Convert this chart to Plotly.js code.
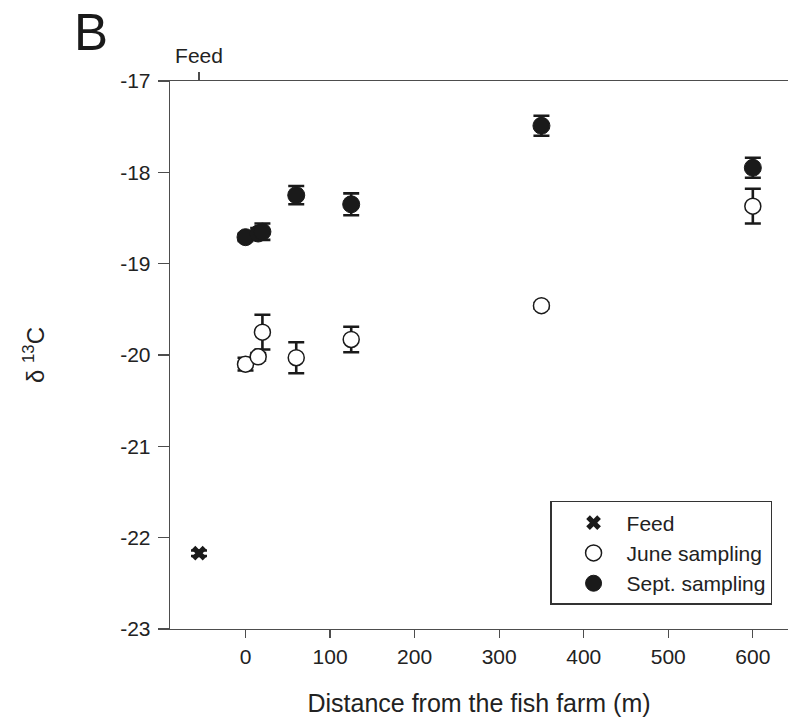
<!DOCTYPE html>
<html>
<head>
<meta charset="utf-8">
<script src="https://cdn.plot.ly/plotly-3.0.1.min.js"></script>
<style>html,body{margin:0;padding:0;background:#fff}#chart{width:788px;height:725px}</style>
</head>
<body>
<div id="chart"></div>
<script>
// Feed (reference point)
const feedX = [-55];
const feedY = [-22.17];
const feedErr = [0.03];
// June sampling
const juneX = [0, 15, 20, 60, 125, 350, 600];
const juneY = [-20.10, -20.02, -19.75, -20.03, -19.83, -19.46, -18.37];
const juneErr = [0.07, 0.04, 0.19, 0.17, 0.14, 0.03, 0.19];
// Sept. sampling
const septX = [0, 15, 20, 60, 125, 350, 600];
const septY = [-18.71, -18.67, -18.65, -18.25, -18.35, -17.49, -17.95];
const septErr = [0.04, 0.06, 0.09, 0.10, 0.12, 0.11, 0.11];
// axis ticks
const xTicks = [0, 100, 200, 300, 400, 500, 600];
const yTicks = [-23, -22, -21, -20, -19, -18, -17];
const topTickVals = [-55];
const topTickLabels = ['Feed'];

const ink = '#1a1a1a';
const axisCol = '#4d4d4d';
const font = 'Liberation Sans, Arial, sans-serif';
const errStyle = (arr) => ({type: 'data', array: arr, visible: true, color: ink, thickness: 2.6, width: 8});

const traces = [
  {x: feedX, y: feedY, name: 'Feed', mode: 'markers', type: 'scatter',
   error_y: errStyle(feedErr),
   marker: {symbol: 'x', size: 13, color: ink, line: {width: 0}}},
  {x: juneX, y: juneY, name: 'June sampling', mode: 'markers', type: 'scatter',
   error_y: errStyle(juneErr),
   marker: {symbol: 'circle', size: 16, color: '#ffffff', line: {color: ink, width: 1.5}}},
  {x: septX, y: septY, name: 'Sept. sampling', mode: 'markers', type: 'scatter',
   error_y: errStyle(septErr),
   marker: {symbol: 'circle', size: 17, color: ink, line: {color: ink, width: 1}}},
  {x: topTickVals, y: [-17], xaxis: 'x2', mode: 'markers', type: 'scatter',
   marker: {opacity: 0}, showlegend: false, hoverinfo: 'skip'}
];

const xRange = [-89.3, 641.6];
const layout = {
  width: 788, height: 725,
  margin: {l: 170, r: 0, t: 81, b: 96},
  paper_bgcolor: '#ffffff', plot_bgcolor: '#ffffff',
  font: {family: font, size: 21, color: '#222222'},
  showlegend: true,
  legend: {
    x: 0.615, y: 0.2336, xanchor: 'left', yanchor: 'top',
    bordercolor: '#333333', borderwidth: 1.5, bgcolor: '#ffffff',
    font: {family: font, size: 21, color: '#222222'},
    itemwidth: 56, indentation: 9, tracegroupgap: 0
  },
  xaxis: {
    range: xRange, tickvals: xTicks, ticktext: xTicks.map(String),
    showgrid: false, zeroline: false, showline: true, linecolor: axisCol, linewidth: 1.3,
    ticks: 'outside', ticklen: 8, tickwidth: 1.3, tickcolor: axisCol,
    tickfont: {size: 21, color: '#222222'},
    title: {text: 'Distance from the fish farm (m)', font: {size: 25, color: '#222222'}, standoff: 28}
  },
  xaxis2: {
    range: xRange, overlaying: 'x', side: 'top', anchor: 'y',
    tickvals: topTickVals, ticktext: topTickLabels,
    showgrid: false, zeroline: false, showline: true, linecolor: axisCol, linewidth: 1.3,
    ticks: 'outside', ticklen: 8, tickwidth: 1.3, tickcolor: axisCol,
    tickfont: {size: 21, color: '#222222'}
  },
  yaxis: {
    range: [-23, -17], tickvals: yTicks, ticktext: yTicks.map(String),
    showgrid: false, zeroline: false, showline: true, linecolor: axisCol, linewidth: 1.3,
    ticks: 'outside', ticklen: 11, tickwidth: 1.3, tickcolor: axisCol,
    ticklabelstandoff: 3,
    tickfont: {size: 21, color: '#222222'},
    title: {text: 'δ <sup>13</sup>C', font: {size: 24, color: '#222222'}, standoff: 68}
  },
  annotations: [
    {text: 'B', xref: 'paper', yref: 'paper', x: -0.158, y: 1.0876, xanchor: 'left', yanchor: 'middle',
     showarrow: false, font: {family: font, size: 51, color: '#1a1a1a'}}
  ]
};

Plotly.newPlot('chart', traces, layout, {displayModeBar: false, staticPlot: true});
</script>
</body>
</html>
